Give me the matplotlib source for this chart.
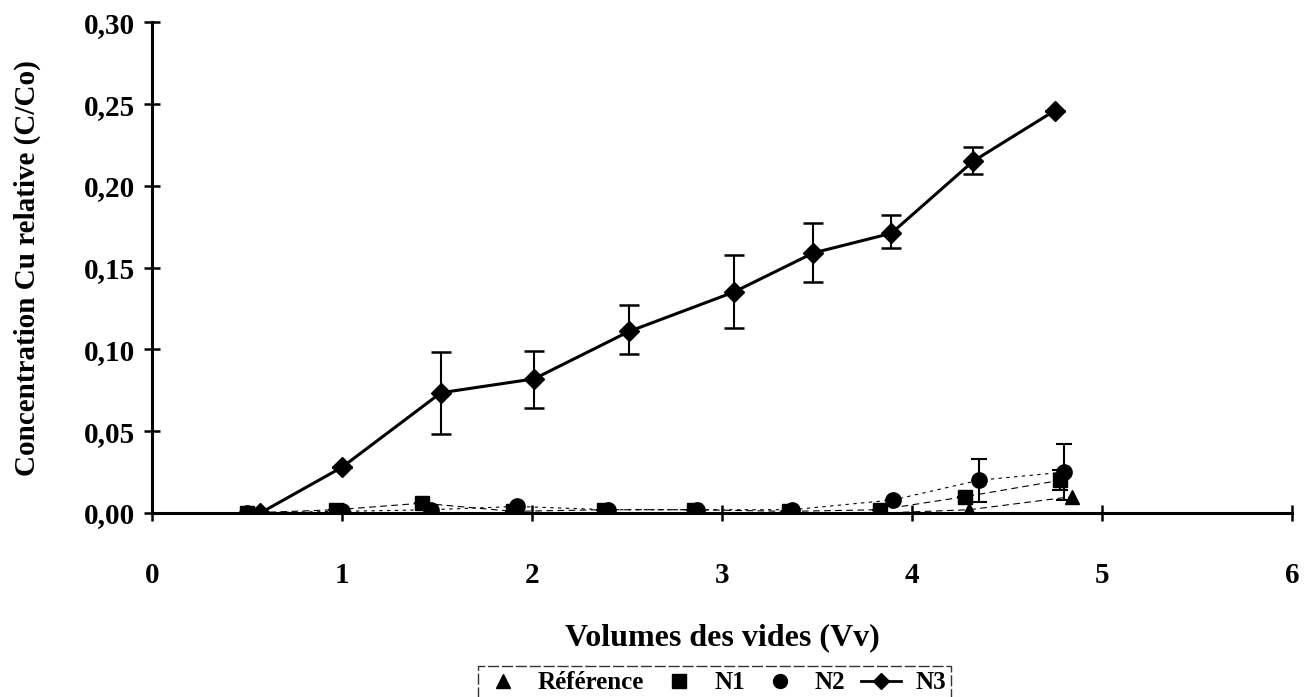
import matplotlib
matplotlib.use("Agg")
import matplotlib.pyplot as plt
from matplotlib.lines import Line2D

# data
ref_x = [0.50, 1.00, 1.45, 1.92, 2.40, 2.87, 3.37, 3.85, 4.30, 4.84]
ref_y = [0.000, 0.000, 0.000, 0.000, 0.000, 0.000, 0.000, 0.000, 0.002, 0.010]

n1_x = [0.50, 0.97, 1.42, 1.90, 2.38, 2.85, 3.35, 3.83, 4.28, 4.78]
n1_y = [0.000, 0.002, 0.006, 0.001, 0.002, 0.002, 0.001, 0.002, 0.010, 0.020]
n1_err = [0, 0, 0, 0, 0, 0, 0, 0, 0, 0.006]

n2_x = [0.50, 1.00, 1.47, 1.92, 2.40, 2.87, 3.37, 3.90, 4.35, 4.80]
n2_y = [0.000, 0.001, 0.002, 0.004, 0.002, 0.002, 0.002, 0.008, 0.020, 0.025]
n2_err = [0, 0, 0, 0, 0, 0, 0, 0, 0.013, 0.017]

n3_x = [0.57, 1.00, 1.52, 2.01, 2.51, 3.06, 3.48, 3.89, 4.32, 4.75]
n3_y = [0.000, 0.028, 0.0735, 0.082, 0.111, 0.135, 0.159, 0.171, 0.215, 0.246]
n3_lo = [0, 0, 0.025, 0.018, 0.014, 0.022, 0.018, 0.009, 0.008, 0]
n3_hi = [0, 0, 0.025, 0.017, 0.016, 0.023, 0.018, 0.011, 0.009, 0]

xticks = [0, 1, 2, 3, 4, 5, 6]
yticks = [0.00, 0.05, 0.10, 0.15, 0.20, 0.25, 0.30]
ytick_labels = ["0,00", "0,05", "0,10", "0,15", "0,20", "0,25", "0,30"]

plt.rcParams['font.family'] = ['Liberation Serif', 'DejaVu Serif']
plt.rcParams['font.weight'] = 'bold'

fig = plt.figure(figsize=(13.04, 6.97), dpi=100)
ax = fig.add_axes([0.1166, 0.264, 0.8744, 0.704])

# faint series first
ax.plot(ref_x, ref_y, color='black', lw=0.8, ls=(0, (6, 4)), marker='^', ms=10, zorder=3)
ax.errorbar(n1_x, n1_y, yerr=n1_err, color='black', lw=0.8, ls=(0, (6, 4)),
            marker='s', ms=10, elinewidth=1.5, capsize=6, capthick=1.5, zorder=3)
ax.errorbar(n2_x, n2_y, yerr=n2_err, color='black', lw=0.8, ls=(0, (3, 4)),
            marker='o', ms=11, elinewidth=1.5, capsize=6, capthick=1.5, zorder=3)
ax.errorbar(n3_x, n3_y, yerr=[n3_lo, n3_hi], color='black', lw=2.2,
            marker='D', ms=10, elinewidth=1.5, capsize=7, capthick=1.8, zorder=4)

ax.set_xlim(0, 6)
ax.set_ylim(0, 0.30)
ax.set_xticks(xticks)
ax.set_xticklabels([str(t) for t in xticks])
ax.set_yticks(yticks)
ax.set_yticklabels(ytick_labels)

for s in ['top', 'right']:
    ax.spines[s].set_visible(False)
for s in ['left', 'bottom']:
    ax.spines[s].set_linewidth(2.2)

ax.tick_params(axis='both', direction='inout', length=12, width=1.8, labelsize=21)
ax.tick_params(axis='x', pad=29)
ax.tick_params(axis='y', pad=6)
ax.spines['bottom'].set_zorder(5)

ax.set_xlabel("Volumes des vides (Vv)", fontsize=23, fontweight='bold', labelpad=25)
ax.set_ylabel("Concentration Cu relative (C/Co)", fontsize=21, fontweight='bold', labelpad=31)

handles = [
    Line2D([], [], color='black', marker='^', ls='none', ms=10),
    Line2D([], [], color='black', marker='s', ls='none', ms=10),
    Line2D([], [], color='black', marker='o', ls='none', ms=10),
    Line2D([], [], color='black', marker='D', ls='-', lw=2, ms=8),
]
leg = fig.legend(handles, ["Référence", "N1", "N2", "N3"], loc='upper center',
                 bbox_to_anchor=(0.548, 0.062), ncol=4, frameon=True, fancybox=False,
                 fontsize=18, handlelength=1.6, columnspacing=0.6, handletextpad=0.6,
                 borderpad=0.2)
leg.get_frame().set_edgecolor('black')
leg.get_frame().set_linewidth(1.0)
leg.get_frame().set_linestyle((0, (8, 2)))

fig.savefig("out.png", dpi=100)
